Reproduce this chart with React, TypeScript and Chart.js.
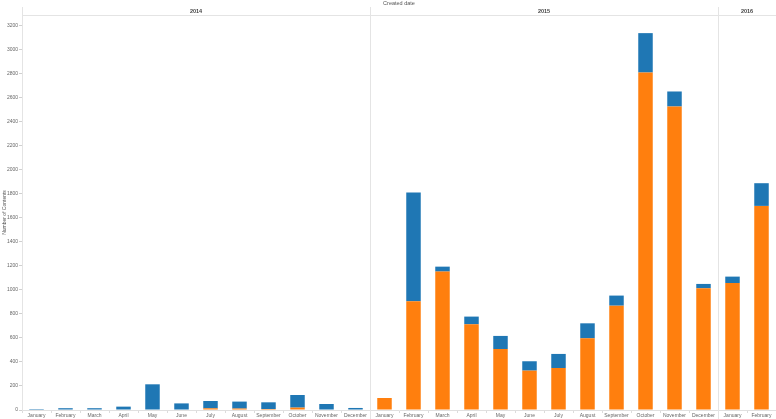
import React, { useEffect, useRef } from "react";
import { Chart, registerables } from "chart.js";

Chart.register(...registerables);

const monthNames = [
  "January", "February", "March", "April", "May", "June",
  "July", "August", "September", "October", "November", "December",
];

const categories = [
  ...monthNames,
  ...monthNames,
  "January", "February",
];

const yearLabels = ["2014", "2015", "2016"];
const yearMonthCounts = [12, 12, 2];

// bottom segment (orange)
const orangeValues = [
  0, 0, 0, 0, 0, 0, 14, 12, 8, 20, 0, 0,
  100, 906, 1153, 714, 508, 328, 350, 597, 869, 2811, 2528, 1014,
  1058, 1700,
];

// top segment (blue)
const blueValues = [
  8, 15, 15, 28, 214, 55, 61, 58, 56, 105, 50, 17,
  0, 905, 41, 64, 109, 78, 117, 125, 84, 328, 125, 36,
  53, 189,
];

const axisTitle = "Number of Contents";
const headerTitle = "Created date";

const FONT = "'Liberation Sans', Arial, sans-serif";

const headerPlugin = {
  id: "headerPlugin",
  afterDraw(chart: any) {
    const { ctx, chartArea, scales } = chart;
    const xs = scales.x;
    const cw = (xs.right - xs.left) / categories.length;
    ctx.save();
    ctx.strokeStyle = "#e4e4e4";
    ctx.lineWidth = 1;
    ctx.beginPath();
    ctx.moveTo(chartArea.left, Math.round(chartArea.top) + 0.5);
    ctx.lineTo(chart.width, Math.round(chartArea.top) + 0.5);
    ctx.stroke();
    ctx.beginPath();
    ctx.moveTo(Math.round(chartArea.left) + 0.5, 7);
    ctx.lineTo(Math.round(chartArea.left) + 0.5, chartArea.top);
    ctx.stroke();

    ctx.fillStyle = "#555";
    ctx.font = `5.5px ${FONT}`;
    ctx.textAlign = "center";
    ctx.textBaseline = "middle";
    ctx.fillText(headerTitle, (chartArea.left + chartArea.right) / 2, 3.5);

    let idx = 0;
    yearLabels.forEach((yl, i) => {
      const left = xs.left + idx * cw;
      const right = xs.left + (idx + yearMonthCounts[i]) * cw;
      ctx.fillStyle = "#444";
      ctx.font = `bold 5.5px ${FONT}`;
      ctx.fillText(yl, (left + right) / 2, 11);
      if (i > 0) {
        const px = Math.round(left) + 0.5;
        ctx.beginPath();
        ctx.moveTo(px, 7);
        ctx.lineTo(px, chart.height);
        ctx.stroke();
      }
      idx += yearMonthCounts[i];
    });
    ctx.restore();
  },
};

export default function App() {
  const canvasRef = useRef<HTMLCanvasElement | null>(null);

  useEffect(() => {
    document.body.style.margin = "0";
    const canvas = canvasRef.current;
    if (!canvas) return;
    const chart = new Chart(canvas, {
      type: "bar",
      data: {
        labels: categories,
        datasets: [
          {
            label: "Orange",
            data: orangeValues,
            backgroundColor: "#ff7f0e",
            categoryPercentage: 1,
            barPercentage: 0.5,
          },
          {
            label: "Blue",
            data: blueValues,
            backgroundColor: "#1f77b4",
            categoryPercentage: 1,
            barPercentage: 0.5,
          },
        ],
      },
      options: {
        responsive: false,
        animation: false,
        devicePixelRatio: 1,
        layout: { padding: { top: 15, left: 0, right: 0, bottom: 0 } },
        plugins: {
          legend: { display: false },
          tooltip: { enabled: false },
        },
        scales: {
          x: {
            stacked: true,
            grid: {
              display: true,
              drawOnChartArea: false,
              tickLength: 3,
              color: "#dcdcdc",
              offset: true,
            },
            border: { display: true, color: "#e0e0e0" },
            ticks: {
              autoSkip: false,
              maxRotation: 0,
              minRotation: 0,
              padding: 0,
              color: "#666",
              font: { size: 5, family: FONT },
            },
            afterFit: (scale: any) => {
              scale.height = 9;
            },
          },
          y: {
            stacked: true,
            min: 0,
            max: 3290,
            grid: {
              display: true,
              drawOnChartArea: false,
              tickLength: 3,
              color: "#d0d0d0",
            },
            border: { display: true, color: "#e4e4e4" },
            ticks: {
              stepSize: 200,
              includeBounds: false,
              padding: 1,
              color: "#666",
              font: { size: 5, family: FONT },
              callback: (v: any) => String(v),
            },
            title: {
              display: true,
              text: axisTitle,
              color: "#555",
              padding: { top: 2, bottom: 0 },
              font: { size: 5, family: FONT },
            },
            afterFit: (scale: any) => {
              scale.width = 22;
            },
          },
        },
      },
      plugins: [headerPlugin],
    });
    return () => chart.destroy();
  }, []);

  return (
    <div style={{ position: "absolute", left: 0, top: 0, width: 776, height: 419, background: "#fff" }}>
      <canvas ref={canvasRef} width={776} height={419} style={{ display: "block" }} />
    </div>
  );
}
